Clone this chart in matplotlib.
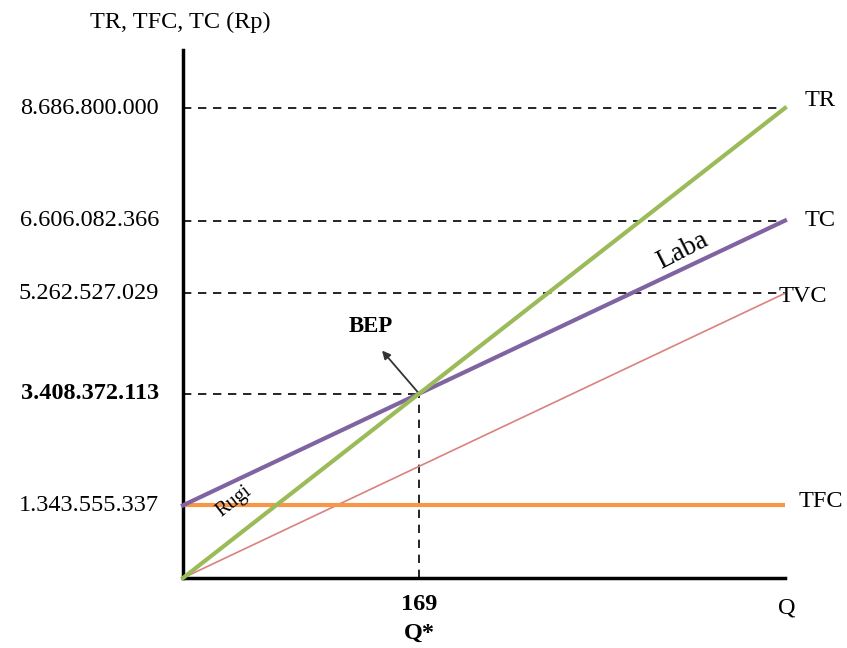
import matplotlib
matplotlib.use("Agg")
import matplotlib.pyplot as plt

# ---- data ----
q_points = [0, 431]          # quantity range (Q)
q_bep = 169                  # break-even quantity
tr_values = [0, 8686800000]
tc_values = [1343555337, 6606082366]
tvc_values = [0, 5262527029]
tfc_values = [1343555337, 1343555337]
bep_value = 3408372113
tick_values = [8686800000, 6606082366, 5262527029, 3408372113, 1343555337]
tick_labels = ["8.686.800.000", "6.606.082.366", "5.262.527.029", "3.408.372.113", "1.343.555.337"]
bold_ticks = ["3.408.372.113"]

plt.rcParams['font.family'] = ['Liberation Serif', 'DejaVu Serif']

W, H = 847, 648
fig = plt.figure(figsize=(W / 100, H / 100), dpi=100)
ax = fig.add_axes([183 / W, 1 - 578 / H, (785 - 183) / W, (578 - 50) / H])

ymax = tr_values[1] * 528 / 470
ax.set_xlim(0, q_points[1])
ax.set_ylim(0, ymax)

for s in ["top", "right"]:
    ax.spines[s].set_visible(False)
ax.spines["left"].set_linewidth(2.5)
ax.spines["bottom"].set_linewidth(2.5)
ax.set_xticks([])
ax.set_yticks([])

# dashed reference lines
for v in [tr_values[1], tc_values[1], tvc_values[1]]:
    ax.plot([0, q_points[1]], [v, v], ls=(0, (5, 4)), color="black", lw=1.2, zorder=1)
ax.plot([0, q_bep], [bep_value, bep_value], ls=(0, (5, 4)), color="black", lw=1.2, zorder=1)
ax.plot([q_bep, q_bep], [0, bep_value], ls=(0, (5, 4)), color="black", lw=1.2, zorder=1)

# lines
ax.plot(q_points, tfc_values, color="#F79646", lw=3, solid_capstyle="butt", zorder=3, clip_on=False)
ax.plot(q_points, tvc_values, color="#D9827F", lw=1.2, zorder=2, clip_on=False)
ax.plot(q_points, tc_values, color="#8064A2", lw=3, zorder=4, clip_on=False)
ax.plot(q_points, tr_values, color="#9BBB59", lw=3, zorder=4, clip_on=False)

fs = 17.5
# y tick labels
for v, lab in zip(tick_values, tick_labels):
    ax.annotate(lab, xy=(0, v), xytext=(-24, 0), textcoords="offset pixels",
                ha="right", va="center", fontsize=fs,
                fontweight="bold" if lab in bold_ticks else "normal")

# line labels
ax.annotate("TR", xy=(q_points[1], tr_values[1]), xytext=(20, 8), textcoords="offset pixels",
            ha="left", va="center", fontsize=fs)
ax.annotate("TC", xy=(q_points[1], tc_values[1]), xytext=(20, 0), textcoords="offset pixels",
            ha="left", va="center", fontsize=fs)
ax.annotate("TVC", xy=(q_points[1], tvc_values[1]), xytext=(-6, -3), textcoords="offset pixels",
            ha="left", va="center", fontsize=fs)
ax.annotate("TFC", xy=(q_points[1], tfc_values[1]), xytext=(14, 4), textcoords="offset pixels",
            ha="left", va="center", fontsize=fs)

# axis labels
ax.annotate("Q", xy=(q_points[1], 0), xytext=(2, -30), textcoords="offset pixels",
            ha="center", va="center", fontsize=fs)
ax.annotate(str(q_bep), xy=(q_bep, 0), xytext=(0, -27), textcoords="offset pixels",
            ha="center", va="center", fontsize=fs, fontweight="bold")
ax.annotate("Q*", xy=(q_bep, 0), xytext=(0, -55), textcoords="offset pixels",
            ha="center", va="center", fontsize=fs, fontweight="bold")
ax.annotate("TR, TFC, TC (Rp)", xy=(0, ymax), xytext=(-3, 28), textcoords="offset pixels",
            ha="center", va="center", fontsize=fs)

# BEP
ax.annotate("", xy=(q_bep, bep_value), xytext=(-37, 43), textcoords="offset pixels",
            arrowprops=dict(arrowstyle="<|-", color="#333333", lw=1.3, mutation_scale=12,
                            shrinkA=0, shrinkB=0))
ax.annotate("BEP", xy=(q_bep, bep_value), xytext=(-48, 67), textcoords="offset pixels",
            ha="center", va="center", fontsize=fs - 1, fontweight="bold")

# Laba / Rugi
ax.text(0.83, 0.62, "Laba", transform=ax.transAxes, rotation=27, fontsize=fs + 2,
        ha="center", va="center")
ax.text(0.085, 0.145, "Rugi", transform=ax.transAxes, rotation=38, fontsize=fs - 3,
        ha="center", va="center")

fig.savefig("out.png", dpi=100)
